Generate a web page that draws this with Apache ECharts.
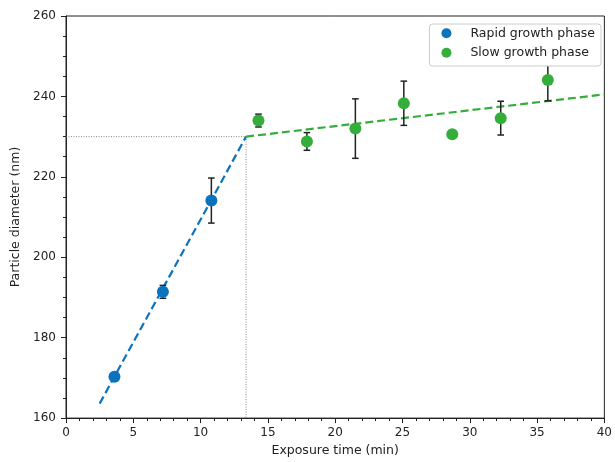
<!DOCTYPE html>
<html>
<head>
<meta charset="utf-8">
<script src="https://cdn.jsdelivr.net/npm/echarts@6/dist/echarts.min.js"></script>
<style>
  html, body { margin: 0; padding: 0; background: #fff; }
  #main { width: 615px; height: 462px; }
</style>
</head>
<body>
<div id="main"></div>
<script>
// measured points (exposure time in min, diameter in nm, error +/-)
var rapidX = [3.6, 7.2, 10.8];
var rapidY = [170.3, 191.4, 214.1];
var rapidErr = [1.0, 1.6, 5.6];

var slowX = [14.3, 17.9, 21.5, 25.1, 28.7, 32.3, 35.8];
var slowY = [234.0, 228.8, 232.0, 238.3, 230.6, 234.6, 244.1];
var slowErr = [1.6, 2.2, 7.4, 5.5, 0, 4.2, 5.2];

// fitted lines
var rapidFitX = [2.5, 13.38];
var rapidFitY = [163.6, 230.0];
var slowFitX = [13.38, 40];
var slowFitY = [230.0, 240.5];

// guide lines at the break point
var guideX = [0, 13.38, 13.38];
var guideY = [230, 230, 160];

var blue = '#0b72bd';
var green = '#35ad3a';
var font = 'DejaVu Sans';

function zip(xs, ys) {
  return xs.map(function (x, i) { return [x, ys[i]]; });
}

function errData(xs, ys, es) {
  var out = [];
  xs.forEach(function (x, i) {
    if (es[i] > 0) out.push([x, ys[i] - es[i], ys[i] + es[i]]);
  });
  return out;
}

function renderErr(params, api) {
  var lo = api.coord([api.value(0), api.value(1)]);
  var hi = api.coord([api.value(0), api.value(2)]);
  var cap = 3.3;
  var st = { stroke: '#222', lineWidth: 1.5 };
  return {
    type: 'group',
    children: [
      { type: 'line', shape: { x1: lo[0], y1: lo[1], x2: hi[0], y2: hi[1] }, style: st },
      { type: 'line', shape: { x1: lo[0] - cap, y1: lo[1], x2: lo[0] + cap, y2: lo[1] }, style: st },
      { type: 'line', shape: { x1: hi[0] - cap, y1: hi[1], x2: hi[0] + cap, y2: hi[1] }, style: st }
    ]
  };
}

var myChart = echarts.init(document.getElementById('main'));

var option = {
  animation: false,
  textStyle: { fontFamily: font },
  grid: {
    left: 66, right: 8, top: 16, bottom: 41,
    show: true, borderColor: '#222', borderWidth: 1
  },
  legend: {
    data: ['Rapid growth phase', 'Slow growth phase'],
    orient: 'vertical',
    right: 14, top: 24,
    icon: 'circle',
    itemWidth: 10, itemHeight: 10, itemGap: 5,
    padding: [2, 6, 6, 12],
    backgroundColor: '#fff',
    borderColor: '#ccc', borderWidth: 1, borderRadius: 3,
    textStyle: { fontFamily: font, fontSize: 12.5, color: '#222', lineHeight: 14.5, padding: [0, 0, 0, 14] }
  },
  xAxis: {
    type: 'value',
    min: 0, max: 40, interval: 5,
    name: 'Exposure time (min)',
    nameLocation: 'middle', nameGap: 25,
    nameTextStyle: { fontFamily: font, fontSize: 12.5, color: '#222' },
    axisLine: { lineStyle: { color: '#222' } },
    axisTick: { length: 5, lineStyle: { color: '#222' } },
    minorTick: { show: true, splitNumber: 5, length: 3, lineStyle: { color: '#222' } },
    axisLabel: { fontFamily: font, fontSize: 12, color: '#222', margin: 9 },
    splitLine: { show: false }
  },
  yAxis: {
    type: 'value',
    min: 160, max: 260, interval: 20,
    name: 'Particle diameter (nm)',
    nameLocation: 'middle', nameGap: 41,
    nameTextStyle: { fontFamily: font, fontSize: 12.5, color: '#222' },
    axisLine: { show: true, lineStyle: { color: '#222' } },
    axisTick: { show: true, length: 5, lineStyle: { color: '#222' } },
    minorTick: { show: true, splitNumber: 4, length: 3, lineStyle: { color: '#222' } },
    axisLabel: { fontFamily: font, fontSize: 12, color: '#222', margin: 10 },
    splitLine: { show: false }
  },
  series: [
    {
      name: 'guide', type: 'line', data: zip(guideX, guideY),
      symbol: 'none', silent: true, z: 1,
      lineStyle: { color: '#666', width: 0.8, type: [1, 1.5] }
    },
    {
      name: 'rapid fit', type: 'line', data: zip(rapidFitX, rapidFitY),
      symbol: 'none', z: 2,
      lineStyle: { color: blue, width: 2.2, type: [8, 4] }
    },
    {
      name: 'slow fit', type: 'line', data: zip(slowFitX, slowFitY),
      symbol: 'none', z: 2,
      lineStyle: { color: green, width: 2.2, type: [8, 4] }
    },
    {
      name: 'rapid err', type: 'custom', renderItem: renderErr,
      data: errData(rapidX, rapidY, rapidErr), z: 3,
      encode: { x: 0, y: [1, 2] }
    },
    {
      name: 'slow err', type: 'custom', renderItem: renderErr,
      data: errData(slowX, slowY, slowErr), z: 3,
      encode: { x: 0, y: [1, 2] }
    },
    {
      name: 'Rapid growth phase', type: 'scatter', data: zip(rapidX, rapidY),
      symbolSize: 12, z: 4, itemStyle: { color: blue, opacity: 1 }
    },
    {
      name: 'Slow growth phase', type: 'scatter', data: zip(slowX, slowY),
      symbolSize: 12, z: 4, itemStyle: { color: green, opacity: 1 }
    }
  ]
};

myChart.setOption(option);
</script>
</body>
</html>
